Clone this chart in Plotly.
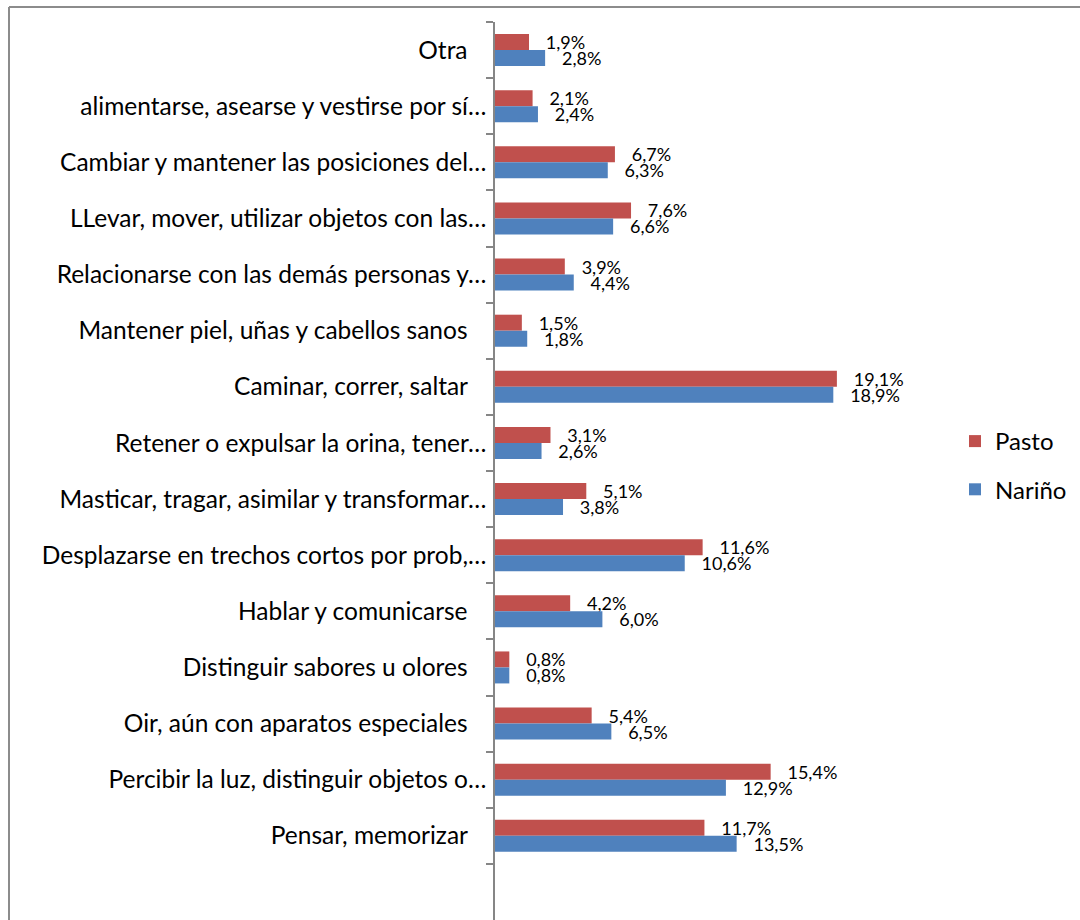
import plotly.graph_objects as go

NB = "\u00a0\u00a0\u00a0"
categories = [
    "Otra" + NB,
    "alimentarse, asearse y vestirse por sí…",
    "Cambiar y mantener las posiciones del…",
    "LLevar, mover, utilizar objetos con las…",
    "Relacionarse con las demás personas y…",
    "Mantener piel, uñas y cabellos sanos" + NB,
    "Caminar, correr, saltar" + NB,
    "Retener o expulsar la orina, tener…",
    "Masticar, tragar, asimilar y transformar…",
    "Desplazarse en trechos cortos por prob,…",
    "Hablar y comunicarse" + NB,
    "Distinguir sabores u olores" + NB,
    "Oir, aún con aparatos especiales" + NB,
    "Percibir la luz, distinguir objetos o…",
    "Pensar, memorizar" + NB,
]
pasto = [1.9, 2.1, 6.7, 7.6, 3.9, 1.5, 19.1, 3.1, 5.1, 11.6, 4.2, 0.8, 5.4, 15.4, 11.7]
narino = [2.8, 2.4, 6.3, 6.6, 4.4, 1.8, 18.9, 2.6, 3.8, 10.6, 6.0, 0.8, 6.5, 12.9, 13.5]
series_names = ["Pasto", "Nariño"]
colors = ["#C0504D", "#4F81BD"]

def fmt(v):
    return "\u00a0\u00a0\u00a0" + f"{v:.1f}".replace(".", ",") + "%"

# add an empty slot at the bottom
cats_all = categories + [" "]

fig = go.Figure()
for name, vals, col in zip(series_names, [pasto, narino], colors):
    fig.add_trace(go.Bar(
        y=categories, x=vals, orientation="h", name=name,
        marker=dict(color=col, line=dict(width=0)),
        text=[fmt(v) for v in vals], textposition="outside",
        constraintext="none",
        textfont=dict(family="Lato", size=18, color="#000000"),
        cliponaxis=False, legendgroup=name,
    ))

L, T, R = 495, 22, 140
W, H = 1080, 920
pw = W - L - R
ph = H - T
fig.update_layout(
    width=W, height=H,
    margin=dict(l=L, r=R, t=T, b=0, pad=0, autoexpand=False),
    paper_bgcolor="white", plot_bgcolor="white",
    barmode="group", bargap=0.43, bargroupgap=0,
    font=dict(family="Lato", size=24.5, color="#000000"),
    showlegend=True,
    legend=dict(x=(955 - L) / pw, y=(H - 419) / ph, xanchor="left", yanchor="top",
                font=dict(size=24), tracegroupgap=14, bgcolor="rgba(0,0,0,0)",
                itemwidth=30),
    xaxis=dict(range=[0, pw / 17.9], visible=False, fixedrange=True),
    yaxis=dict(
        type="category", categoryorder="array", categoryarray=cats_all,
        range=[15.5, -0.5], showline=True, linecolor="#868686", linewidth=1.5,
        ticks="outside", ticklen=7, tickcolor="#868686", tickwidth=1.5,
        tickson="boundaries", showgrid=False, zeroline=False, automargin=False,
        tickfont=dict(family="Lato", size=24.5, color="#000000"),
        ticklabelstandoff=2, fixedrange=True,
    ),
)
# chart border (left and top)
top_y = (H - 7) / ph
left_x = (9 - L) / pw
fig.add_shape(type="line", xref="paper", yref="paper", layer="above",
              x0=left_x, x1=left_x, y0=top_y, y1=-0.01,
              line=dict(color="#8C8C8C", width=2))
fig.add_shape(type="line", xref="paper", yref="paper", layer="above",
              x0=left_x, x1=(1085 - L) / pw, y0=top_y, y1=top_y,
              line=dict(color="#8C8C8C", width=2))

fig.write_html("out.html", config={"displayModeBar": False},
               post_script="document.body.style.margin='0';")
